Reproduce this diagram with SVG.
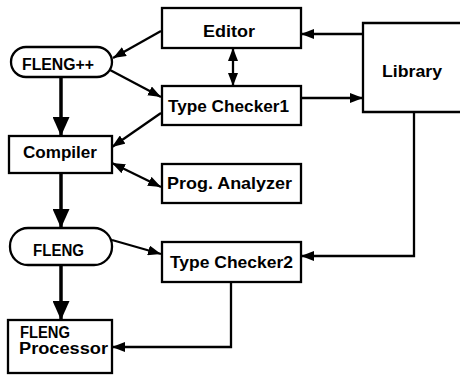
<svg xmlns="http://www.w3.org/2000/svg" width="460" height="375" viewBox="0 0 460 375">
<style>
  .box{fill:#fff;stroke:#000;stroke-width:2.3}
  .lbl{font-family:"Liberation Sans",Arial,sans-serif;font-weight:bold;font-size:17px;fill:#000}
  .cond{font-size:16px}
  .c{fill:none;stroke:#000;stroke-width:2.3}
  .thick{fill:none;stroke:#000;stroke-width:3.5}
</style>
<defs>
  <marker id="a" markerUnits="userSpaceOnUse" markerWidth="13" markerHeight="10" refX="13" refY="5" orient="auto-start-reverse">
    <path d="M0,0 L13,5 L0,10 z" fill="#000"/>
  </marker>
  <marker id="big" markerUnits="userSpaceOnUse" markerWidth="19" markerHeight="17" refX="19" refY="8.5" orient="auto">
    <path d="M0,0 L19,8.5 L0,17 z" fill="#000"/>
  </marker>
</defs>
<rect width="460" height="375" fill="#fff"/>

<g id="connectors">
  <line class="c" x1="161" y1="31" x2="113" y2="58" marker-end="url(#a)"/>
  <line class="c" x1="110" y1="70" x2="161" y2="97" marker-end="url(#a)"/>
  <line class="c" x1="161" y1="113" x2="112" y2="147" marker-end="url(#a)"/>
  <line class="c" x1="112" y1="163" x2="161" y2="187" marker-start="url(#a)" marker-end="url(#a)"/>
  <line class="c" x1="233" y1="48" x2="233" y2="86" marker-start="url(#a)" marker-end="url(#a)"/>
  <line class="c" x1="363" y1="34" x2="301" y2="34" marker-end="url(#a)"/>
  <line class="c" x1="301" y1="98" x2="363" y2="98" marker-end="url(#a)"/>
  <polyline class="c" points="414,112 414,256 301,256" marker-end="url(#a)"/>
  <polyline class="c" points="231,282 231,347 112,347" marker-end="url(#a)"/>
  <line class="c" x1="112" y1="240" x2="161" y2="254" marker-end="url(#a)"/>
  <line class="thick" x1="61" y1="77" x2="61" y2="136" marker-end="url(#big)"/>
  <line class="thick" x1="61" y1="173" x2="61" y2="228" marker-end="url(#big)"/>
  <line class="thick" x1="61" y1="265" x2="61" y2="320" marker-end="url(#big)"/>
</g>

<g id="editor">
  <rect class="box" x="162" y="8" width="139" height="40"/>
  <text class="lbl" x="203" y="37" textLength="52" lengthAdjust="spacingAndGlyphs">Editor</text>
</g>
<g id="library">
  <path class="box" d="M462,23 H363 V112 H462"/>
  <text class="lbl" x="382" y="77" textLength="60" lengthAdjust="spacingAndGlyphs">Library</text>
</g>
<g id="fleng-pp">
  <rect class="box" x="11" y="47" width="101" height="30" rx="15"/>
  <text class="lbl cond" x="22" y="70" textLength="72" lengthAdjust="spacingAndGlyphs">FLENG++</text>
</g>
<g id="type-checker1">
  <rect class="box" x="162" y="86" width="139" height="39"/>
  <text class="lbl" x="168" y="112" textLength="121" lengthAdjust="spacingAndGlyphs">Type Checker1</text>
</g>
<g id="compiler">
  <rect class="box" x="9" y="136" width="103" height="37"/>
  <text class="lbl" x="23" y="158" textLength="74" lengthAdjust="spacingAndGlyphs">Compiler</text>
</g>
<g id="prog-analyzer">
  <rect class="box" x="162" y="164" width="139" height="39"/>
  <text class="lbl" x="167" y="189" textLength="125" lengthAdjust="spacingAndGlyphs">Prog. Analyzer</text>
</g>
<g id="fleng">
  <rect class="box" x="10" y="228" width="102" height="37" rx="18"/>
  <text class="lbl cond" x="33" y="256" textLength="51" lengthAdjust="spacingAndGlyphs">FLENG</text>
</g>
<g id="type-checker2">
  <rect class="box" x="162" y="242" width="139" height="40"/>
  <text class="lbl" x="170" y="268" textLength="123" lengthAdjust="spacingAndGlyphs">Type Checker2</text>
</g>
<g id="fleng-processor">
  <rect class="box" x="8" y="320" width="104" height="53"/>
  <text class="lbl cond" x="20" y="338" textLength="50" lengthAdjust="spacingAndGlyphs">FLENG</text>
  <text class="lbl cond" x="19" y="354" textLength="89" lengthAdjust="spacingAndGlyphs">Processor</text>
</g>
</svg>
